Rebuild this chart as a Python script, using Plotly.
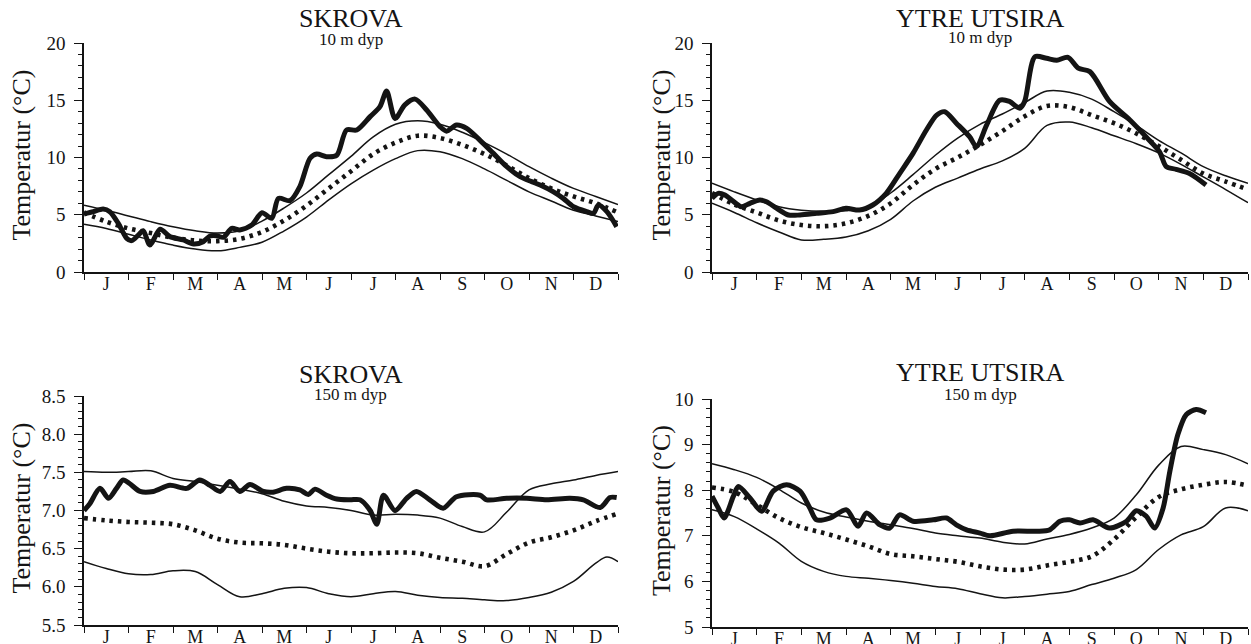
import plotly.graph_objects as go

MONTHS = ["J", "F", "M", "A", "M", "J", "J", "A", "S", "O", "N", "D"]
MONTH_CENTERS = [i + 0.5 for i in range(12)]
MONTH_EDGES = list(range(13))
HALF = [i * 0.5 for i in range(25)]

# ---- SKROVA 10 m ----
skr10_upper = [5.84, 5.4, 4.9, 4.4, 3.95, 3.6, 3.4, 3.6, 4.45, 5.6, 6.9, 8.5, 10.1, 11.8, 12.9,
               13.2, 12.9, 12.2, 11.3, 10.3, 9.2, 8.2, 7.3, 6.6, 5.9]
skr10_lower = [4.17, 3.8, 3.3, 2.8, 2.35, 2.0, 1.85, 2.15, 2.6, 3.6, 4.8, 6.3, 7.7, 8.9, 9.9,
               10.6, 10.5, 9.9, 9.0, 8.0, 7.0, 6.2, 5.4, 4.9, 4.4]
skr10_mean = [5.2, 4.4, 3.8, 3.4, 3.0, 2.75, 2.7, 2.9, 3.5, 4.5, 5.8, 7.3, 8.8, 10.3, 11.3,
              11.9, 11.7, 11.1, 10.3, 9.3, 8.2, 7.3, 6.6, 6.0, 5.2]
skr10_obs_x = [0, 0.21, 0.43, 0.58, 0.77, 0.96, 1.07, 1.22, 1.33, 1.48,
               1.71, 1.93, 2.23, 2.46, 2.68, 2.83, 2.98, 3.13, 3.32, 3.5,
               3.77, 4.0, 4.22, 4.37, 4.63, 4.85, 5.08, 5.23, 5.45, 5.68,
               5.9, 6.13, 6.43, 6.65, 6.8, 6.99, 7.21, 7.44, 7.7, 8.0,
               8.15, 8.37, 8.6, 8.9, 9.2, 9.5, 9.8, 10.06, 10.25, 10.55,
               10.77, 11.0, 11.3, 11.45, 11.56, 11.75, 11.97]
skr10_obs_y = [5.07, 5.27, 5.5, 5.27, 4.25, 2.94, 2.74, 3.23, 3.61, 2.36,
               3.73, 3.09, 2.8, 2.45, 2.65, 3.14, 3.17, 3.03, 3.81, 3.67,
               4.1, 5.18, 4.69, 6.43, 6.23, 7.45, 9.93, 10.3, 10.07, 10.2,
               12.4, 12.4, 13.57, 14.44, 15.8, 13.4, 14.6, 15.1, 14.15, 12.7,
               12.3, 12.84, 12.55, 11.5, 10.36, 9.2, 8.33, 7.89, 7.6, 7.0,
               6.43, 5.7, 5.27, 5.12, 5.85, 5.27, 3.96]

# ---- YTRE UTSIRA 10 m ----
ytr10_upper = [7.75, 7.0, 6.3, 5.7, 5.4, 5.3, 5.35, 5.7, 6.9, 8.5, 10.2, 11.7, 12.9, 13.8, 14.8,
               15.8, 15.7, 15.1, 14.0, 12.8, 11.5, 10.4, 9.2, 8.4, 7.75]
ytr10_lower = [6.0, 5.2, 4.3, 3.5, 2.8, 2.85, 3.05, 3.6, 4.6, 6.2, 7.4, 8.2, 9.0, 9.7, 10.8,
               12.8, 13.1, 12.6, 11.9, 11.2, 10.4, 9.4, 8.3, 7.2, 6.05]
ytr10_mean = [6.9, 5.9, 5.2, 4.5, 4.1, 4.0, 4.25, 4.9, 6.0, 7.6, 9.0, 10.0, 11.1, 12.3, 13.6,
              14.5, 14.4, 13.7, 13.0, 12.1, 11.0, 9.8, 8.6, 7.9, 7.2]
ytr10_obs_x = [0, 0.14, 0.29, 0.44, 0.66, 0.85, 1.07, 1.22, 1.45, 1.71,
               1.97, 2.34, 2.71, 3.0, 3.3, 3.6, 3.9, 4.2, 4.5, 4.8,
               5.03, 5.21, 5.47, 5.77, 5.92, 6.15, 6.44, 6.66, 6.89, 7.0,
               7.23, 7.49, 7.72, 7.97, 8.2, 8.46, 8.9, 9.35, 9.72, 10.02,
               10.17, 10.39, 10.69, 11.06]
ytr10_obs_y = [6.43, 6.87, 6.72, 6.29, 5.7, 6.0, 6.29, 6.14, 5.56, 4.98,
               4.98, 5.12, 5.27, 5.56, 5.41, 5.85, 6.87, 8.6, 10.36, 12.4,
               13.7, 14.0, 13.0, 11.8, 10.95, 12.84, 15.0, 14.9, 14.3, 14.9,
               18.8, 18.66, 18.5, 18.75, 17.8, 17.5, 14.9, 13.3, 11.8, 10.5,
               9.2, 8.97, 8.6, 7.6]

# ---- SKROVA 150 m ----
skr150_upper = [7.51, 7.50, 7.51, 7.52, 7.42, 7.38, 7.33, 7.28, 7.22, 7.12, 7.06, 7.04, 7.00,
                6.94, 6.95, 6.94, 6.90, 6.79, 6.72, 6.98, 7.27, 7.35, 7.40, 7.46, 7.51]
skr150_lower_x = HALF[:-1] + [11.75, 12]
skr150_lower = [6.33, 6.24, 6.17, 6.16, 6.21, 6.20, 6.03, 5.87, 5.91, 5.98, 5.99, 5.91, 5.87,
                5.91, 5.94, 5.89, 5.86, 5.85, 5.83, 5.82, 5.86, 5.93, 6.07, 6.31, 6.39, 6.33]
skr150_mean = [6.9, 6.87, 6.85, 6.84, 6.82, 6.74, 6.63, 6.58, 6.57, 6.55, 6.5, 6.46, 6.44,
               6.44, 6.45, 6.44, 6.38, 6.33, 6.27, 6.43, 6.58, 6.65, 6.74, 6.86, 6.96]
skr150_obs_x = [0, 0.13, 0.36, 0.55, 0.73, 0.88, 1.03, 1.26, 1.56, 1.93,
                2.31, 2.6, 2.83, 3.06, 3.28, 3.5, 3.73, 4.03, 4.25, 4.55,
                4.85, 5.04, 5.19, 5.45, 5.68, 5.98, 6.2, 6.43, 6.58, 6.73,
                6.99, 7.25, 7.47, 7.77, 8.07, 8.37, 8.9, 9.05, 9.5, 9.95,
                10.4, 10.92, 11.22, 11.6, 11.82, 11.97]
skr150_obs_y = [7.0, 7.09, 7.29, 7.16, 7.29, 7.4, 7.35, 7.25, 7.25, 7.33,
                7.29, 7.4, 7.33, 7.25, 7.38, 7.25, 7.34, 7.25, 7.24, 7.29,
                7.27, 7.21, 7.28, 7.2, 7.15, 7.14, 7.14, 7.0, 6.82, 7.2,
                7.0, 7.16, 7.25, 7.14, 7.03, 7.18, 7.2, 7.14, 7.16, 7.16,
                7.14, 7.16, 7.14, 7.04, 7.17, 7.17]

# ---- YTRE UTSIRA 150 m ----
ytr150_upper = [8.58, 8.45, 8.28, 8.02, 7.72, 7.52, 7.41, 7.32, 7.24, 7.16, 7.06, 7.0, 6.95,
                6.86, 6.82, 6.93, 7.03, 7.17, 7.39, 7.9, 8.55, 8.96, 8.89, 8.78, 8.58]
ytr150_lower = [7.57, 7.42, 7.15, 6.84, 6.44, 6.22, 6.11, 6.07, 6.02, 5.96, 5.89, 5.84, 5.73,
                5.64, 5.67, 5.72, 5.78, 5.93, 6.07, 6.26, 6.7, 7.02, 7.2, 7.61, 7.55]
ytr150_mean = [8.06, 7.96, 7.68, 7.39, 7.19, 7.06, 6.92, 6.77, 6.6, 6.55, 6.49, 6.43, 6.33,
               6.26, 6.26, 6.35, 6.43, 6.55, 6.92, 7.41, 7.85, 8.02, 8.12, 8.18, 8.1]
ytr150_obs_x = [0, 0.14, 0.27, 0.48, 0.59, 0.85, 1.11, 1.37, 1.67, 1.97,
                2.19, 2.34, 2.64, 3.01, 3.27, 3.46, 3.76, 3.98, 4.2, 4.5,
                4.95, 5.25, 5.47, 5.7, 6.0, 6.22, 6.74, 7.27, 7.56, 7.79,
                8.0, 8.24, 8.53, 8.9, 9.28, 9.5, 9.72, 9.91, 10.1, 10.25,
                10.43, 10.62, 10.84, 11.06]
ytr150_obs_y = [7.87, 7.61, 7.39, 7.87, 8.08, 7.83, 7.54, 7.98, 8.12, 7.98,
                7.61, 7.35, 7.39, 7.57, 7.21, 7.5, 7.24, 7.17, 7.46, 7.32,
                7.35, 7.39, 7.24, 7.13, 7.06, 7.0, 7.1, 7.1, 7.13, 7.32,
                7.35, 7.28, 7.35, 7.17, 7.32, 7.55, 7.43, 7.17, 7.61, 8.41,
                9.22, 9.66, 9.77, 9.7]

INK = "#141414"
FONT = "Liberation Serif"
W, H = 1251, 644

panels = [
    dict(name="SKROVA", depth="10 m dyp", ax="", upper=(HALF, skr10_upper), lower=(HALF, skr10_lower),
         mean=(HALF, skr10_mean), obs=(skr10_obs_x, skr10_obs_y),
         xpx=(84, 618), ypx=(43, 272), yr=(0, 20), dt=5, mdt=1, fmt="d",
         tpx=19, spx=39),
    dict(name="YTRE UTSIRA", depth="10 m dyp", ax="2", upper=(HALF, ytr10_upper), lower=(HALF, ytr10_lower),
         mean=(HALF, ytr10_mean), obs=(ytr10_obs_x, ytr10_obs_y),
         xpx=(712, 1248), ypx=(43, 272), yr=(0, 20), dt=5, mdt=1, fmt="d",
         tpx=18, spx=38),
    dict(name="SKROVA", depth="150 m dyp", ax="3", upper=(HALF, skr150_upper),
         lower=(skr150_lower_x, skr150_lower),
         mean=(HALF, skr150_mean), obs=(skr150_obs_x, skr150_obs_y),
         xpx=(84, 618), ypx=(396, 625), yr=(5.5, 8.5), dt=0.5, mdt=0.1, fmt=".1f",
         tpx=374, spx=394),
    dict(name="YTRE UTSIRA", depth="150 m dyp", ax="4", upper=(HALF, ytr150_upper), lower=(HALF, ytr150_lower),
         mean=(HALF, ytr150_mean), obs=(ytr150_obs_x, ytr150_obs_y),
         xpx=(712, 1248), ypx=(399, 627), yr=(5, 10), dt=1, mdt=0.2, fmt="d",
         tpx=373, spx=394),
]

fig = go.Figure()
layout = dict(template="none", width=W, height=H,
              margin=dict(l=0, r=0, t=0, b=0, pad=0, autoexpand=False),
              paper_bgcolor="white", plot_bgcolor="white", showlegend=False,
              font=dict(family=FONT, color=INK))
annotations = []

for p in panels:
    xa, ya = "x" + p["ax"], "y" + p["ax"]
    for key in ("upper", "lower"):
        xs, ys = p[key]
        fig.add_trace(go.Scatter(x=xs, y=ys, mode="lines", xaxis=xa, yaxis=ya,
                                 line=dict(color=INK, width=1.5, shape="spline", smoothing=1.0),
                                 hoverinfo="skip"))
    xs, ys = p["mean"]
    fig.add_trace(go.Scatter(x=xs, y=ys, mode="lines", xaxis=xa, yaxis=ya,
                             line=dict(color=INK, width=4.6, dash="3.5px,5px", shape="spline", smoothing=1.0),
                             hoverinfo="skip"))
    xs, ys = p["obs"]
    fig.add_trace(go.Scatter(x=xs, y=ys, mode="lines", xaxis=xa, yaxis=ya,
                             line=dict(color=INK, width=5, shape="spline", smoothing=0.8),
                             hoverinfo="skip"))

    x0, x1 = p["xpx"]
    yt, yb = p["ypx"]
    xdom = [x0 / W, x1 / W]
    ydom = [1 - yb / H, 1 - yt / H]
    layout["xaxis" + p["ax"]] = dict(
        domain=xdom, range=[0, 12], anchor=ya, automargin=False,
        showline=True, linecolor=INK, linewidth=1.6,
        showgrid=False, zeroline=False, tickmode="array", tickvals=MONTH_CENTERS, ticktext=MONTHS,
        ticks="", tickfont=dict(family=FONT, size=18, color=INK), ticklabelstandoff=-5,
        minor=dict(tickmode="array", tickvals=MONTH_EDGES, ticks="outside", ticklen=6,
                   tickwidth=1.3, tickcolor=INK, showgrid=False),
        fixedrange=True)
    layout["yaxis" + p["ax"]] = dict(
        domain=ydom, range=list(p["yr"]), anchor=xa, automargin=False,
        showline=True, linecolor=INK, linewidth=1.6,
        showgrid=False, zeroline=False, tick0=p["yr"][0], dtick=p["dt"], ticks="outside",
        ticklen=8, tickwidth=1.3, tickcolor=INK, tickformat=p["fmt"],
        tickfont=dict(family=FONT, size=19, color=INK), ticklabelstandoff=5,
        minor=dict(tick0=p["yr"][0], dtick=p["mdt"], ticks="outside", ticklen=4, tickwidth=1.1,
                   tickcolor=INK, showgrid=False),
        fixedrange=True)

    cx = (x0 + x1) / 2 / W
    annotations.append(dict(text=p["name"], x=cx, y=1 - p["tpx"] / H, xref="paper", yref="paper",
                            showarrow=False, xanchor="center", yanchor="middle",
                            font=dict(family=FONT, size=26, color=INK)))
    annotations.append(dict(text=p["depth"], x=cx, y=1 - p["spx"] / H, xref="paper", yref="paper",
                            showarrow=False, xanchor="center", yanchor="middle",
                            font=dict(family=FONT, size=17, color=INK)))
    tx = 21 if x0 < 400 else 661
    annotations.append(dict(text="Temperatur (°C)", x=tx / W, y=1 - ((yt + yb) / 2 - 2) / H,
                            xref="paper", yref="paper", showarrow=False, textangle=-90,
                            xanchor="center", yanchor="middle",
                            font=dict(family=FONT, size=26, color=INK)))

layout["annotations"] = annotations
fig.update_layout(**layout)
fig.write_html("out.html")
